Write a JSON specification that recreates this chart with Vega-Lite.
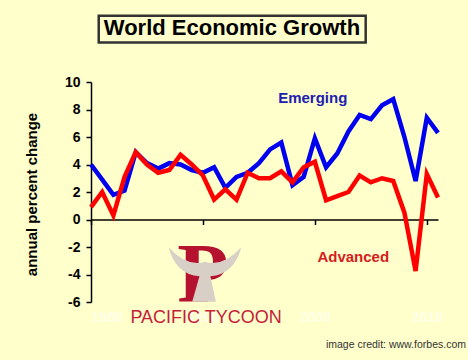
{
  "$schema": "https://vega.github.io/schema/vega-lite/v6.json",
  "width": 347,
  "height": 220,
  "autosize": {"type": "none"},
  "padding": {"left": 91, "top": 82, "right": 30, "bottom": 58},
  "background": "#FFFFCC",
  "config": {"view": {"stroke": null}, "font": "Liberation Sans"},
  "layer": [
    {
      "data": {"values": [
        {"year": 1980, "series": "Emerging", "value": 4.0},
        {"year": 1981, "series": "Emerging", "value": 2.9},
        {"year": 1982, "series": "Emerging", "value": 1.8},
        {"year": 1983, "series": "Emerging", "value": 2.1},
        {"year": 1984, "series": "Emerging", "value": 4.9},
        {"year": 1985, "series": "Emerging", "value": 4.1},
        {"year": 1986, "series": "Emerging", "value": 3.7},
        {"year": 1987, "series": "Emerging", "value": 4.1},
        {"year": 1988, "series": "Emerging", "value": 4.0},
        {"year": 1989, "series": "Emerging", "value": 3.6},
        {"year": 1990, "series": "Emerging", "value": 3.4},
        {"year": 1991, "series": "Emerging", "value": 3.8},
        {"year": 1992, "series": "Emerging", "value": 2.3},
        {"year": 1993, "series": "Emerging", "value": 3.1},
        {"year": 1994, "series": "Emerging", "value": 3.4},
        {"year": 1995, "series": "Emerging", "value": 4.1},
        {"year": 1996, "series": "Emerging", "value": 5.1},
        {"year": 1997, "series": "Emerging", "value": 5.6},
        {"year": 1998, "series": "Emerging", "value": 2.5},
        {"year": 1999, "series": "Emerging", "value": 3.1},
        {"year": 2000, "series": "Emerging", "value": 5.9},
        {"year": 2001, "series": "Emerging", "value": 3.8},
        {"year": 2002, "series": "Emerging", "value": 4.8},
        {"year": 2003, "series": "Emerging", "value": 6.4},
        {"year": 2004, "series": "Emerging", "value": 7.6},
        {"year": 2005, "series": "Emerging", "value": 7.3},
        {"year": 2006, "series": "Emerging", "value": 8.3},
        {"year": 2007, "series": "Emerging", "value": 8.75},
        {"year": 2008, "series": "Emerging", "value": 6.0},
        {"year": 2009, "series": "Emerging", "value": 2.8},
        {"year": 2010, "series": "Emerging", "value": 7.4},
        {"year": 2011, "series": "Emerging", "value": 6.3},
        {"year": 1980, "series": "Advanced", "value": 0.9},
        {"year": 1981, "series": "Advanced", "value": 2.0},
        {"year": 1982, "series": "Advanced", "value": 0.3},
        {"year": 1983, "series": "Advanced", "value": 3.1},
        {"year": 1984, "series": "Advanced", "value": 4.9},
        {"year": 1985, "series": "Advanced", "value": 4.0},
        {"year": 1986, "series": "Advanced", "value": 3.4},
        {"year": 1987, "series": "Advanced", "value": 3.6},
        {"year": 1988, "series": "Advanced", "value": 4.7},
        {"year": 1989, "series": "Advanced", "value": 4.0},
        {"year": 1990, "series": "Advanced", "value": 3.2},
        {"year": 1991, "series": "Advanced", "value": 1.45},
        {"year": 1992, "series": "Advanced", "value": 2.2},
        {"year": 1993, "series": "Advanced", "value": 1.45},
        {"year": 1994, "series": "Advanced", "value": 3.4},
        {"year": 1995, "series": "Advanced", "value": 3.0},
        {"year": 1996, "series": "Advanced", "value": 3.0},
        {"year": 1997, "series": "Advanced", "value": 3.5},
        {"year": 1998, "series": "Advanced", "value": 2.7},
        {"year": 1999, "series": "Advanced", "value": 3.8},
        {"year": 2000, "series": "Advanced", "value": 4.2},
        {"year": 2001, "series": "Advanced", "value": 1.4},
        {"year": 2002, "series": "Advanced", "value": 1.7},
        {"year": 2003, "series": "Advanced", "value": 2.0},
        {"year": 2004, "series": "Advanced", "value": 3.2},
        {"year": 2005, "series": "Advanced", "value": 2.7},
        {"year": 2006, "series": "Advanced", "value": 3.0},
        {"year": 2007, "series": "Advanced", "value": 2.8},
        {"year": 2008, "series": "Advanced", "value": 0.5},
        {"year": 2009, "series": "Advanced", "value": -3.75},
        {"year": 2010, "series": "Advanced", "value": 3.3},
        {"year": 2011, "series": "Advanced", "value": 1.6}
      ]},
      "mark": {"type": "line", "strokeWidth": 4.5, "strokeJoin": "miter"},
      "encoding": {
        "x": {
          "field": "year", "type": "quantitative",
          "scale": {"domain": [1980, 2011], "nice": false, "zero": false},
          "axis": {
            "title": null, "values": [1980, 1990, 2000, 2010], "tickCount": 10, "format": "d",
            "offset": -82.5, "grid": false,
            "domainColor": "#000000", "domainWidth": 1.5,
            "tickColor": "#000000", "tickWidth": 1.5, "tickSize": 5,
            "labelColor": "#FFFFE8", "labelFontSize": 14, "labelFontWeight": "bold",
            "labelPadding": 86
          }
        },
        "y": {
          "field": "value", "type": "quantitative",
          "scale": {"domain": [-6, 10], "nice": false, "zero": false},
          "axis": {
            "title": "annual percent change",
            "values": [-6, -4, -2, 0, 2, 4, 6, 8, 10],
            "tickCount": 20,
            "labelExpr": "'' + datum.value",
            "labelOverlap": false,
            "grid": false,
            "domainColor": "#000000", "domainWidth": 1.5,
            "tickColor": "#000000", "tickWidth": 1.5, "tickSize": 5,
            "labelFontSize": 14, "labelFontWeight": "bold", "labelColor": "#000000",
            "labelPadding": 6,
            "titleFontSize": 15, "titleFontWeight": "bold", "titleColor": "#000000",
            "titleAngle": -90, "titleX": -60, "titleY": 112,
            "titleAlign": "center", "titleBaseline": "middle"
          }
        },
        "color": {
          "field": "series", "type": "nominal",
          "scale": {"domain": ["Emerging", "Advanced"], "range": ["#0000F0", "#FF0000"]},
          "legend": null
        }
      }
    },
    {
      "data": {"values": [{}]},
      "mark": {"type": "rect", "fill": "transparent", "stroke": "#333333", "strokeWidth": 2.5},
      "encoding": {
        "x": {"datum": 1980.69, "type": "quantitative"},
        "x2": {"datum": 2004.54},
        "y": {"datum": 14.82, "type": "quantitative"},
        "y2": {"datum": 12.88}
      }
    },
    {
      "data": {"values": [{}]},
      "mark": {"type": "text", "text": "World Economic Growth", "fontSize": 22, "fontWeight": "bold", "color": "#000000", "align": "center", "baseline": "middle"},
      "encoding": {
        "x": {"datum": 1992.59, "type": "quantitative"},
        "y": {"datum": 13.9, "type": "quantitative"}
      }
    },
    {
      "data": {"values": [{}]},
      "mark": {"type": "text", "text": "Emerging", "fontSize": 15, "fontWeight": "bold", "color": "#2020B0", "align": "center", "baseline": "middle"},
      "encoding": {
        "x": {"datum": 1999.81, "type": "quantitative"},
        "y": {"datum": 8.84, "type": "quantitative"}
      }
    },
    {
      "data": {"values": [{}]},
      "mark": {"type": "text", "text": "Advanced", "fontSize": 15, "fontWeight": "bold", "color": "#D42020", "align": "center", "baseline": "middle"},
      "encoding": {
        "x": {"datum": 2003.43, "type": "quantitative"},
        "y": {"datum": -2.71, "type": "quantitative"}
      }
    },
    {
      "data": {"values": [{}]},
      "mark": {"type": "text", "text": "P", "font": "Liberation Serif", "fontSize": 84, "fontWeight": "bold", "color": "#B5122F", "align": "center", "baseline": "alphabetic"},
      "encoding": {
        "x": {"datum": 1990.0, "type": "quantitative"},
        "y": {"datum": -6.0, "type": "quantitative"}
      }
    },
    {
      "data": {"values": [{}]},
      "mark": {"type": "point", "shape": "M -1 -0.75 Q -0.5 -0.2 0 -0.35 Q 0.5 -0.2 1 -0.75 Q 0.8 0 0.15 0.05 L 0.3 0.75 L -0.35 0.75 L -0.15 0.05 Q -0.8 0 -1 -0.75 Z", "filled": true, "size": 5300, "color": "#D8D0C6", "opacity": 1, "strokeWidth": 0},
      "encoding": {
        "x": {"datum": 1990.18, "type": "quantitative"},
        "y": {"datum": -4.0, "type": "quantitative"}
      }
    },
    {
      "data": {"values": [{}]},
      "mark": {"type": "text", "text": "PACIFIC TYCOON", "fontSize": 18, "color": "#C41E3A", "align": "center", "baseline": "middle"},
      "encoding": {
        "x": {"datum": 1990.28, "type": "quantitative"},
        "y": {"datum": -7.16, "type": "quantitative"}
      }
    },
    {
      "data": {"values": [{}]},
      "mark": {"type": "text", "text": "image credit: www.forbes.com", "fontSize": 10.5, "color": "#333333", "align": "right", "baseline": "middle"},
      "encoding": {
        "x": {"datum": 2013.5, "type": "quantitative"},
        "y": {"datum": -9.13, "type": "quantitative"}
      }
    }
  ]
}
